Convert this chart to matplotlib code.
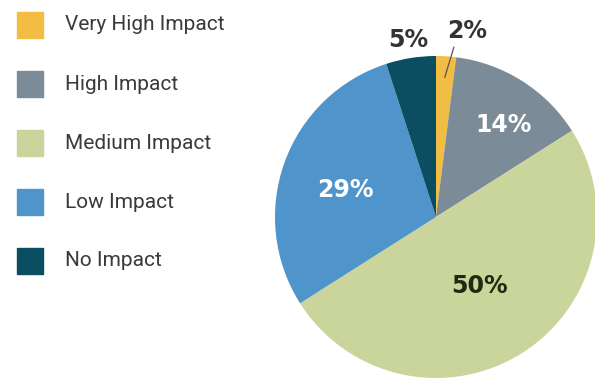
import numpy as np
import matplotlib.pyplot as plt
from matplotlib.patches import Rectangle

categories = ["Very High Impact", "High Impact", "Medium Impact", "Low Impact", "No Impact"]
shares = [2, 14, 50, 29, 5]
colors = ["#F2BD45", "#7C8B98", "#C9D59B", "#4F94CA", "#0B4E62"]

# label placement: (radius, angle offset in deg, text colour)
label_style = [
    (1.17, -6, "#333333"),
    (0.71, -4, "white"),
    (0.51, 0, "#1E2A12"),
    (0.59, 3, "white"),
    (1.11, 0, "#333333"),
]

W, H = 595, 378
fig = plt.figure(figsize=(W / 100, H / 100), dpi=100)

# pie axes: centre (436, 217) px, radius 161 px
cx, cy, r = 436, 217, 161
ax = fig.add_axes([(cx - r) / W, (H - cy - r) / H, 2 * r / W, 2 * r / H])
wedges, _ = ax.pie(shares, colors=colors, startangle=90, counterclock=False,
                   radius=1, wedgeprops=dict(linewidth=0))
ax.set_xlim(-1, 1)
ax.set_ylim(-1, 1)
ax.set_aspect("equal")
ax.axis("off")

for w, val, (rad, off, col) in zip(wedges, shares, label_style):
    mid = np.deg2rad((w.theta1 + w.theta2) / 2 + off)
    x, y = rad * np.cos(mid), rad * np.sin(mid)
    ax.text(x, y, f"{val}%", ha="center", va="center", color=col,
            fontsize=17, fontweight="heavy", family="DejaVu Sans", clip_on=False)

# leader line for the smallest slice
w0 = wedges[0]
a = np.deg2rad((w0.theta1 + w0.theta2) / 2)
ax.plot([0.87 * np.cos(a), 1.06 * np.cos(np.deg2rad(84))],
        [0.87 * np.sin(a), 1.06 * np.sin(np.deg2rad(84))],
        color="#555555", lw=0.9, clip_on=False)

# legend drawn by hand
for i, (name, col) in enumerate(zip(categories, colors)):
    yc = 25 + i * 59
    fig.patches.append(Rectangle((17 / W, 1 - (yc + 13) / H), 26 / W, 26 / H,
                                 transform=fig.transFigure, color=col))
    fig.text(65 / W, 1 - yc / H, name, ha="left", va="center",
             fontsize=15, family="Roboto", color="#3a3a3a")

fig.savefig("out.png", dpi=100)
